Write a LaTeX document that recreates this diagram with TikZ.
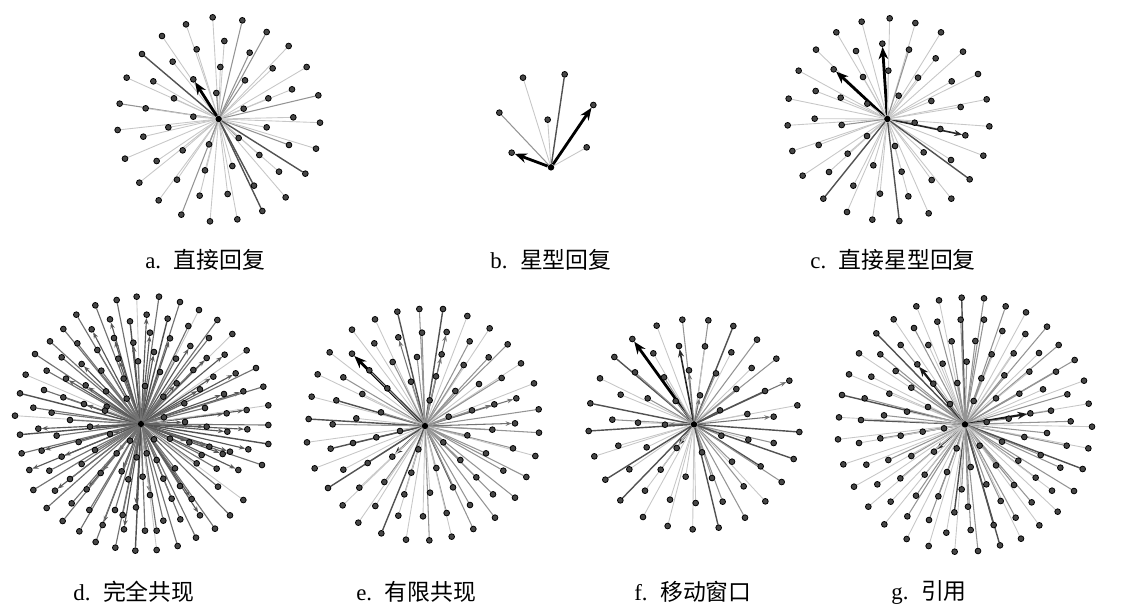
\documentclass[tikz,border=0pt]{standalone}
\usepackage{fontspec}
\setmainfont{Liberation Serif}
\newfontfamily\cjk{Noto Sans CJK SC}
\usetikzlibrary{arrows.meta,backgrounds}
\tikzset{
 dot/.style={circle,fill=black!72,draw=black,line width=0.45pt,inner sep=0pt,minimum size=0.115cm},
 hub/.style={circle,fill=black,inner sep=0pt,minimum size=0.13cm},
 ln0/.style={draw=black!22,line width=0.5pt},
 ln1/.style={draw=black!42,line width=0.6pt},
 ln2/.style={draw=black!68,line width=0.8pt},
 ln3/.style={draw=black,line width=1.6pt,-{Stealth[length=7pt,width=5.5pt]}},
 ln4/.style={draw=black!55,line width=0.6pt,-{Stealth[length=3.5pt,width=2.6pt]}},
 ln5/.style={draw=black!85,line width=0.9pt,-{Stealth[length=4.5pt,width=3.4pt]}},
 ln6/.style={draw=black!90,line width=1.2pt,-{Stealth[length=5.5pt,width=4.2pt]}},
 lbl/.style={anchor=west,font=\fontsize{13}{15}\selectfont,inner sep=0pt}
}
\newcommand\drawstar[4]{%
 \begin{scope}[shift={#2},scale=0.33333]
  \node[hub] (#1c) at #3 {};
  \foreach [count=\i] \x/\y/\s in {#4} {\node[dot] (#1\i) at (\x,\y) {};}
  \begin{pgfonlayer}{background}
   \foreach [count=\i] \x/\y/\s in {#4} {\draw[ln\s] (#1c) -- (#1\i);}
  \end{pgfonlayer}
 \end{scope}}
\begin{document}
\begin{tikzpicture}[x=0.02cm,y=-0.02cm]
\useasboundingbox (0,0) rectangle (1121,613);
% a
\drawstar{a}{(100,0)}{(356,357)}{338/52/0,427/61/1,258/73/0,500/96/1,186/108/0,373/123/0,290/148/0,566/138/0,449/158/1,126/162/2,218/185/0,361/201/0,518/205/0,620/201/0,80/233/0,160/244/0,280/238/3,435/241/1,576/268/0,349/279/1,222/295/0,505/295/0,655/286/1,59/311/1,137/325/0,431/326/0,280/350/0,580/352/0,660/368/0,53/390/0,205/382/0,500/382/0,130/410/0,416/414/1,567/435/1,648/446/0,327/433/1,248/451/0,478/465/0,75/476/0,170/483/0,397/498/0,537/515/0,616/521/2,315/511/0,118/548/0,231/539/0,462/557/2,383/582/0,299/587/0,557/592/0,176/601/0,487/633/2,244/644/1,412/658/0,330/664/0}
% b
\drawstar{b}{(480,60)}{(213,322)}{129/53/0,254/43/2,340/135/3,58/158/1,203/179/0,320/262/0,95/278/3}
% c
\drawstar{c}{(770,0)}{(352,357)}{359/55/0,275/65/0,436/69/0,199/97/0,513/97/0,337/131/3,138/149/0,258/153/0,417/149/1,579/155/0,497/175/0,86/212/0,191/208/3,355/212/0,624/222/0,279/231/0,444/233/0,545/244/0,137/273/0,56/296/0,212/293/0,386/287/0,484/303/0,650/298/0,292/311/0,572/321/0,134/356/0,53/376/0,215/375/1,434/368/1,511/387/0,586/406/5,658/379/0,291/408/0,375/438/0,67/453/0,146/435/0,233/461/0,461/457/0,640/467/0,543/480/0,310/496/0,98/527/0,177/516/0,395/515/0,485/540/0,599/538/2,250/557/0,330/581/0,415/589/0,160/596/2,544/596/0,476/640/0,231/636/0,307/659/0,388/663/2}
% d
\begin{scope}[ln1/.style={draw=black!55,line width=0.65pt},ln4/.style={draw=black!65,line width=0.65pt,-{Stealth[length=3.5pt,width=2.6pt]}}]
\drawstar{d}{(0,280)}{(423,432)}{350/60/1,410/50/0,477/50/1,540/66/1,286/76/1,597/90/0,229/104/1,440/104/4,503/116/2,330/118/4,390/124/2,652/120/1,190/147/1,275/148/4,565/138/1,450/158/4,150/184/1,232/190/1,342/174/4,510/175/4,697/162/0,400/188/4,627/174/1,292/210/1,355/236/4,462/216/4,571/198/4,105/222/1,185/232/1,674/224/4,740/211/0,528/236/1,620/234/4,245/252/4,414/244/1,77/284/0,140/272/1,304/272/1,480/276/1,580/270/1,707/280/4,768/264/1,198/296/4,371/296/1,530/310/4,640/290/4,257/316/4,60/340/2,132/330/1,318/334/1,600/328/4,672/342/4,730/334/4,790/320/1,435/318/1,190/352/1,490/350/1,553/370/1,100/383/1,155/398/1,252/372/4,320/380/1,380/356/1,615/384/1,680/400/4,740/390/4,805/376/0,45/407/0,210/420/1,270/440/4,315/392/1,555/426/4,620/440/4,492/412/1,682/455/4,742/448/4,805/435/1,115/446/4,60/464/2,170/467/1,330/462/4,390/482/1,462/478/1,510/476/1,568/487/4,628/500/4,690/515/4,745/508/4,805/492/2,65/520/1,125/512/4,185/530/4,236/486/1,285/510/1,350/520/4,410/532/1,440/520/1,590/550/1,650/566/1,715/570/4,786/555/1,88/570/4,148/572/1,245/552/1,302/579/4,365/574/4,470/540/1,525/565/1,605/525/1,668/522/4,100/630/1,165/632/4,210/597/1,260/628/4,385/598/1,428/590/1,490/596/1,540/618/1,575/657/4,654/620/1,730/660/0,140/684/1,215/670/1,268/690/1,345/690/1,408/682/4,450/645/4,515/656/1,600/706/4,690/706/1,188/723/1,308/735/4,368/705/1,435/752/1,490/722/1,541/718/1,645/746/1,238/754/1,372/748/4,470/752/1,588/773/1,287/786/1,346/803/1,406/812/2,470/810/0,533/798/1}
\end{scope}
% e
\drawstar{e}{(295,285)}{(390,423)}{373/72/1,444/72/2,307/80/2,517/93/0,240/103/0,584/130/0,171/134/0,381/143/1,455/141/4,310/157/4,238/175/0,524/169/1,638/178/1,104/202/0,171/206/3,440/208/4,366/216/1,581/217/1,293/231/1,678/235/0,506/240/1,223/256/1,68/268/0,145/277/1,423/274/1,620/279/1,552/297/0,717/295/0,348/290/1,277/310/1,202/327/0,481/318/1,50/335/0,124/346/2,598/358/4,664/340/4,404/346/1,258/382/1,531/376/1,731/373/1,184/400/0,41/402/2,113/418/1,461/395/1,660/415/4,592/434/1,315/438/1,732/443/1,517/451/1,36/472/0,244/457/1,174/474/1,107/491/2,445/472/1,654/490/1,370/493/1,573/505/1,721/513/0,292/515/5,218/534/1,496/525/1,59/550/0,145/554/0,424/549/0,625/557/1,349/563/1,694/576/1,268/591/1,544/577/1,99/609/2,193/608/0,474/607/2,328/628/1,405/623/0,594/628/1,660/638/1,241/663/0,143/661/0,525/660/1,455/684/1,310/692/0,384/694/0,600/698/1,190/713/0,259/745/2,535/732/1,333/764/0,403/766/1,470/755/0}
% f
\drawstar{f}{(575,290)}{(357,403)}{322/89/1,400/91/1,245/107/0,475/108/2,172/147/3,546/149/1,312/168/5,390/169/0,235/190/0,469/187/0,118/201/2,604/206/1,342/241/4,530/234/0,180/247/1,423/250/1,267/262/1,75/265/0,643/272/4,484/297/1,570/303/2,137/314/0,375/316/4,218/325/1,302/333/1,46/340/2,667/346/0,435/361/2,517/372/0,596/380/4,112/389/1,189/398/0,270/404/4,41/423/2,673/426/2,439/437/1,520/449/0,596/459/1,130/467/0,215/472/0,305/474/5,381/487/1,58/499/0,471/515/1,557/529/2,656/507/2,163/538/0,257/539/1,91/569/2,411/564/1,332/560/0,620/576/1,210/602/0,506/589/1,136/631/2,285/629/0,362/639/0,443/635/1,571/634/0,204/681/0,510/683/1,278/708/0,353/718/0,431/713/2}
% g
\drawstar{g}{(830,285)}{(405,418)}{327/46/0,395/38/2,462/40/1,259/64/0,527/64/1,588/82/0,191/103/0,322/110/1,392/104/1,462/104/1,651/125/1,252/129/1,517/138/0,139/145/2,586/147/0,365/169/1,436/168/1,212/180/1,295/180/0,686/180/1,87/205/0,151/208/1,485/208/1,551/205/0,627/204/0,338/236/0,410/230/1,262/238/6,734/225/1,197/258/1,523/271/1,454/280/1,598/260/0,678/260/1,57/268/0,124/275/0,382/294/1,310/296/1,762/287/0,244/308/1,639/313/0,36/330/2,178/326/0,568/326/1,712/328/1,104/340/1,498/340/1,431/348/1,360/357/1,294/366/1,776/356/0,231/380/0,663/377/1,601/385/6,162/391/1,93/405/2,27/397/0,536/401/1,470/411/1,722/409/1,342/430/1,786/425/0,278/440/2,212/452/1,583/456/1,651/444/1,24/463/0,151/460/1,87/474/0,516/470/1,449/482/1,710/482/1,775/490/0,380/490/1,312/500/5,244/513/1,632/510/1,565/527/1,40/538/0,109/539/0,175/525/1,498/541/1,422/546/1,758/552/2,691/548/1,351/561/1,284/569/1,211/580/1,617/578/1,142/598/0,72/605/0,469/598/1,552/600/1,395/613/1,666/617/0,732/618/1,258/632/1,325/634/1,414/665/1,512/648/1,605/652/1,182/650/0,115/665/0,683/680/0,232/694/1,373/682/2,297/705/1,491/720/2,163/718/0,557/698/1,628/721/0,422/735/1,349/743/0,230/762/0,510/781/2,296/783/0,573/761/0,374/800/0,444/798/1}
% labels
\node[lbl] (la) at (145,260) {a.\hspace{0.55em}{\cjk 直接回复}};
\node[lbl] (lb) at (490,260) {b.\hspace{0.55em}{\cjk 星型回复}};
\node[lbl] (lc) at (810,260) {c.\hspace{0.55em}{\cjk 直接星型回复}};
\node[lbl] (ld) at (73,592) {d.\hspace{0.55em}{\cjk 完全共现}};
\node[lbl] (le) at (356,592) {e.\hspace{0.55em}{\cjk 有限共现}};
\node[lbl] (lf) at (634,592) {f.\hspace{0.55em}{\cjk 移动窗口}};
\node[lbl] (lg) at (891,592) {g.\hspace{0.55em}{\cjk 引用}};
\end{tikzpicture}
\end{document}
